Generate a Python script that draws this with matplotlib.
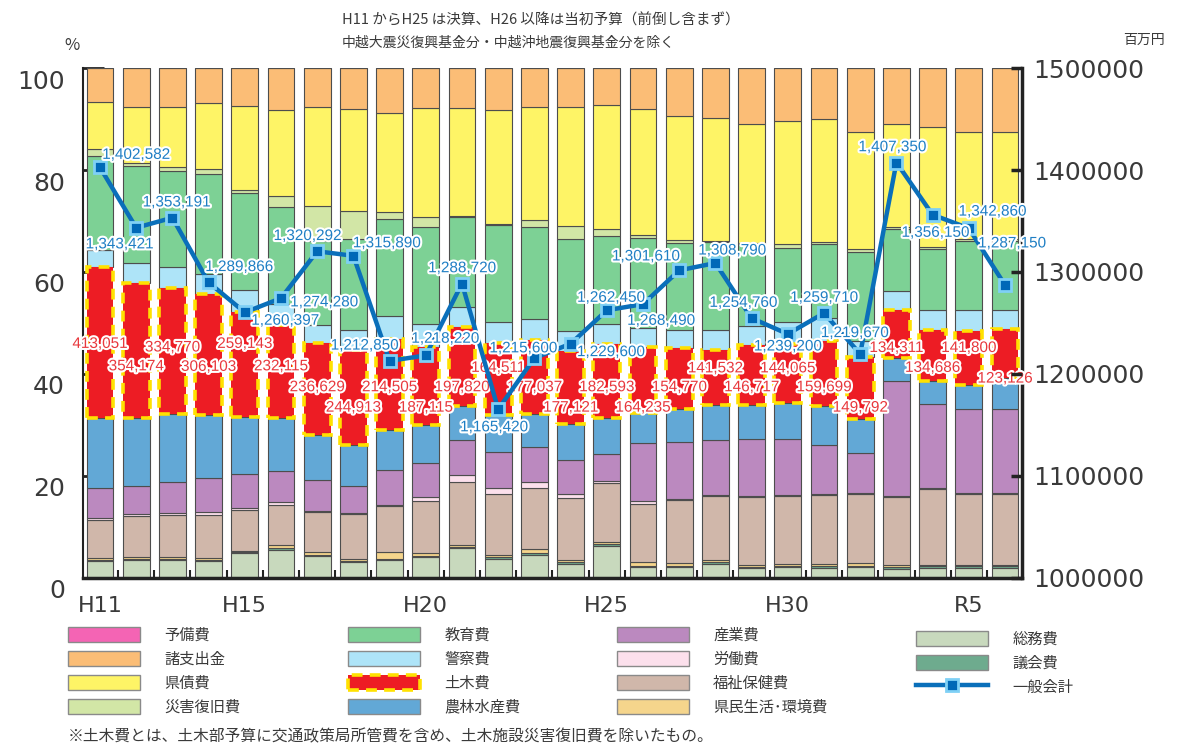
import numpy as np
import matplotlib
matplotlib.use('Agg')
import matplotlib.pyplot as plt
import matplotlib.patheffects as pe
from matplotlib.patches import Patch
from matplotlib.lines import Line2D
from matplotlib.transforms import ScaledTranslation

JP = ['Noto Sans CJK JP', 'DejaVu Sans']
NUM = ['Liberation Sans', 'DejaVu Sans']

# --- data -----------------------------------------------------------------
years = ['H11', 'H12', 'H13', 'H14', 'H15', 'H16', 'H17', 'H18', 'H19', 'H20',
         'H21', 'H22', 'H23', 'H24', 'H25', 'H26', 'H27', 'H28', 'H29', 'H30',
         'H31', 'R2', 'R3', 'R4', 'R5', 'R6']
tick_years = ['H11', 'H15', 'H20', 'H25', 'H30', 'R5']

# 一般会計 (百万円)
general = [1402582, 1343421, 1353191, 1289866, 1260397, 1274280, 1320292, 1315890,
           1212850, 1218220, 1288720, 1165420, 1215600, 1229600, 1262450, 1268490,
           1301610, 1308790, 1254760, 1239200, 1259710, 1219670, 1407350, 1356150,
           1342860, 1287150]
# 土木費 (百万円)
doboku = [413051, 354174, 334770, 306103, 259143, 232115, 236629, 244913, 214505,
          187115, 197820, 164511, 177037, 177121, 182593, 164235, 154770, 141532,
          146717, 144065, 159699, 149792, 134311, 134686, 141800, 123126]

# shares (%), bottom to top
somu = [3.3, 3.5, 3.5, 3.3, 4.8, 5.5, 4.3, 3.1, 3.5, 4.1, 5.8, 3.8, 4.5, 2.8, 6.3,
        2.1, 2.1, 2.8, 1.9, 2.1, 2.0, 2.1, 1.8, 2.0, 2.0, 2.0]
gikai = [0.3, 0.3, 0.3, 0.3, 0.3, 0.3, 0.3, 0.3, 0.3, 0.3, 0.3, 0.3, 0.3, 0.3, 0.3,
         0.3, 0.3, 0.3, 0.3, 0.3, 0.3, 0.3, 0.3, 0.3, 0.3, 0.3]
kenmin = [0.3, 0.3, 0.3, 0.3, 0.2, 0.7, 0.4, 0.4, 1.2, 0.5, 0.4, 0.4, 0.8, 0.4, 0.4,
          0.7, 0.6, 0.4, 0.3, 0.4, 0.5, 0.5, 0.4, 0.2, 0.2, 0.2]
fukushi = [7.4, 8.0, 8.2, 8.5, 8.1, 7.8, 8.0, 8.7, 9.1, 10.2, 12.3, 11.9, 12.0, 12.1,
           11.6, 11.5, 12.2, 12.6, 13.4, 13.3, 13.4, 13.5, 13.4, 14.9, 13.9, 13.9]
rodo = [0.5, 0.5, 0.5, 0.6, 0.4, 0.5, 0.2, 0.2, 0.2, 0.8, 1.3, 1.2, 1.2, 0.8, 0.4,
        0.4, 0.2, 0.2, 0.2, 0.2, 0.2, 0.2, 0.2, 0.2, 0.2, 0.2]
sangyo = [5.8, 5.5, 6.0, 6.6, 6.5, 6.2, 6.0, 5.4, 6.8, 6.7, 7.0, 7.2, 6.8, 6.8, 5.3,
          11.4, 11.2, 10.8, 11.1, 10.9, 9.7, 8.0, 22.6, 16.6, 16.6, 16.6]
norin = [13.8, 13.3, 13.3, 12.4, 11.3, 10.4, 8.9, 8.0, 8.0, 7.3, 6.7, 7.2, 6.5, 6.9,
         7.1, 6.0, 6.6, 6.8, 6.7, 7.1, 7.7, 6.5, 4.4, 4.5, 4.7, 6.0]
doboku_pct = [29.5, 26.4, 24.7, 23.7, 20.6, 18.2, 17.9, 18.6, 17.7, 15.4, 15.4, 14.1,
              14.6, 14.4, 14.5, 12.9, 11.9, 10.8, 11.7, 11.6, 12.7, 12.3, 9.5, 9.9,
              10.6, 9.6]
keisatsu = [3.5, 3.9, 4.1, 4.0, 4.2, 4.1, 3.7, 4.0, 4.6, 4.6, 3.9, 4.0, 4.0, 4.0, 4.0,
            3.8, 3.6, 3.9, 3.9, 4.2, 4.5, 3.0, 3.6, 3.9, 4.0, 3.7]
kyoiku = [18.3, 19.0, 18.9, 19.5, 19.1, 19.0, 16.3, 17.7, 19.0, 19.0, 17.6, 19.1, 18.2,
          17.9, 17.1, 17.6, 17.0, 17.2, 16.0, 14.7, 14.4, 17.6, 12.2, 12.0, 13.5, 13.5]
saigai = [1.5, 0.7, 0.7, 1.0, 0.5, 2.3, 7.0, 5.6, 1.3, 1.8, 0.2, 0.2, 1.3, 2.6, 1.5,
          0.5, 0.5, 0.2, 0.2, 0.7, 0.4, 0.5, 0.5, 0.5, 0.4, 0.4]
kensai = [9.1, 10.9, 11.8, 12.9, 16.5, 16.8, 19.3, 20.0, 19.4, 21.4, 21.2, 22.4, 22.1,
          23.3, 24.3, 24.8, 24.3, 24.2, 23.4, 24.2, 24.2, 23.0, 20.2, 23.5, 21.0, 21.0]
shishutsu = [6.7, 7.7, 7.7, 6.9, 7.5, 8.2, 7.7, 8.0, 8.9, 7.9, 7.9, 8.2, 7.7, 7.7, 7.2,
             8.0, 9.5, 9.8, 10.9, 10.3, 10.0, 12.5, 10.9, 11.5, 12.6, 12.6]
yobi = [0.0, 0.0, 0.0, 0.0, 0.0, 0.0, 0.0, 0.0, 0.0, 0.0, 0.0, 0.0, 0.0, 0.0, 0.0,
        0.0, 0.0, 0.0, 0.0, 0.0, 0.0, 0.0, 0.0, 0.0, 0.0, 0.0]

# --- layout only ------------------------------------------------------------
# offsets (points) of the 一般会計 labels from their markers
gen_off = [(26, 9), (-12, -12), (3, 11), (22, 11), (29, -6), (31, -3), (-7, 11),
           (24, 9), (-18, 11), (14, 12), (0, 11), (-3, -13), (-8, 7), (29, -6),
           (3, 9), (13, -12), (-24, 10), (12, 9), (-6, 11), (0, -9), (0, 11),
           (-4, 15), (-3, 11), (2, -13), (17, 12), (5, 30)]
# height (%) of the 土木費 labels
dob_y = [45.9, 41.5, 45.2, 41.4, 45.9, 41.5, 37.4, 33.4, 37.4, 33.4, 37.4, 41.2, 37.4,
         33.4, 37.4, 33.4, 37.4, 41.1, 37.4, 41.1, 37.4, 33.4, 45.1, 41.2, 45.1, 39.1]

segments = [
    ('総務費', somu, '#c8d9bd'),
    ('議会費', gikai, '#6eab8e'),
    ('県民生活･環境費', kenmin, '#f5d58c'),
    ('福祉保健費', fukushi, '#d0b7aa'),
    ('労働費', rodo, '#fce0ec'),
    ('産業費', sangyo, '#bb89bf'),
    ('農林水産費', norin, '#62a8d6'),
    ('土木費', doboku_pct, '#ed1c24'),
    ('警察費', keisatsu, '#aee4f8'),
    ('教育費', kyoiku, '#7dd195'),
    ('災害復旧費', saigai, '#d2e6a6'),
    ('県債費', kensai, '#fef466'),
    ('諸支出金', shishutsu, '#fbbd76'),
    ('予備費', yobi, '#f464b4'),
]
colors = {name: c for name, _, c in segments}
LINE_C = '#0a6fba'
TXT = '#3a3a3a'

fig = plt.figure(figsize=(11.92, 7.45), dpi=100)
ax = fig.add_axes([0.0696, 0.2242, 0.7878, 0.6845])
x = np.arange(len(years))
width = 0.74

bottom = np.zeros(len(years))
for name, vals, col in segments:
    vals = np.array(vals)
    if name == '土木費':
        ax.bar(x, vals, width, bottom=bottom, color=col, edgecolor='#ffe100',
               linewidth=2.6, linestyle=(0, (3.0, 2.0)), zorder=3)
    else:
        ax.bar(x, vals, width, bottom=bottom, color=col, edgecolor='#4d4d4d',
               linewidth=0.8, zorder=2)
    bottom += vals

ax.set_xlim(-0.47, len(years) - 0.53)
ax.set_ylim(0, 100)
ax.set_yticks(np.arange(0, 101, 20))
ax.tick_params(axis='y', direction='in', length=15, width=2, color='#222222',
               labelsize=18, labelcolor=TXT, pad=13)
off = ScaledTranslation(0, -0.11, fig.dpi_scale_trans)
for lab in ax.get_yticklabels():
    lab.set_transform(lab.get_transform() + off)

ax.set_xticks([years.index(t) for t in tick_years])
ax.set_xticklabels(tick_years)
ax.set_xticks(x[:-1] + 0.5, minor=True)
ax.tick_params(axis='x', which='major', length=0, labelsize=16, labelcolor=TXT, pad=13)
ax.tick_params(axis='x', which='minor', direction='in', length=6, width=1.5,
               color='#222222')
ax.spines['top'].set_visible(False)
ax.spines['left'].set_linewidth(1.5)
ax.spines['bottom'].set_linewidth(2.5)
ax.spines['right'].set_linewidth(2.5)
for s in ax.spines.values():
    s.set_color('#222222')

# 土木費 labels
halo = [pe.withStroke(linewidth=3, foreground='white')]
for i, v in enumerate(doboku):
    ax.text(x[i], dob_y[i], f'{v:,}', ha='center', va='center', fontsize=11,
            family=NUM, color='#e8383d', path_effects=halo, zorder=6)

# 一般会計 line on the right axis
ax2 = ax.twinx()
ax2.set_ylim(1000000, 1500000)
ax2.set_yticks(np.arange(1000000, 1500001, 100000))
ax2.set_yticklabels([f'{v:d}' for v in range(1000000, 1500001, 100000)])
ax2.tick_params(axis='y', direction='in', length=8, width=2.5, color='#222222',
                labelsize=18, labelcolor=TXT, pad=8)
for s in ax2.spines.values():
    s.set_visible(False)
ax2.plot(x, general, color=LINE_C, lw=3.2, marker='s', markersize=9,
         markerfacecolor='#0068b7', markeredgecolor='#7fd0f5', markeredgewidth=2,
         zorder=5)
for i, v in enumerate(general):
    ax2.annotate(f'{v:,}', (x[i], v), xytext=gen_off[i], textcoords='offset points',
                 ha='center', va='center', fontsize=11, family=NUM, color='#1f7fc4',
                 path_effects=halo, zorder=7)

# texts around the plot
fig.text(342 / 1192, 1 - 20 / 745, 'H11 からH25 は決算、H26 以降は当初予算（前倒し含まず）',
         fontsize=10.5, family=JP, color=TXT, va='center')
fig.text(342 / 1192, 1 - 43 / 745, '中越大震災復興基金分・中越沖地震復興基金分を除く',
         fontsize=10, family=JP, color=TXT, va='center')
fig.text(1144 / 1192, 1 - 40 / 745, '百万円', fontsize=10, family=JP, color=TXT,
         ha='center', va='center')
fig.text(72 / 1192, 1 - 45 / 745, '%', fontsize=12, family=JP, color=TXT,
         ha='center', va='center')
fig.text(68 / 1192, 1 - 737 / 745,
         '※土木費とは、土木部予算に交通政策局所管費を含め、土木施設災害復旧費を除いたもの。',
         fontsize=11.3, family=JP, color=TXT, va='center')

# legend, four columns
def patch(name):
    if name == '土木費':
        return Patch(facecolor=colors[name], edgecolor='#ffe100', linewidth=2.6,
                     linestyle=(0, (3.0, 2.0)))
    return Patch(facecolor=colors[name], edgecolor='#8a8a8a', linewidth=1)

line_handle = Line2D([], [], color=LINE_C, lw=3.2, marker='s', markersize=9,
                     markerfacecolor='#0068b7', markeredgecolor='#7fd0f5',
                     markeredgewidth=2)
columns = [
    (['予備費', '諸支出金', '県債費', '災害復旧費'], 68, 627),
    (['教育費', '警察費', '土木費', '農林水産費'], 348, 627),
    (['産業費', '労働費', '福祉保健費', '県民生活･環境費'], 617, 627),
    (['総務費', '議会費', '一般会計'], 916, 631),
]
for names, lx, ly in columns:
    handles = [line_handle if n == '一般会計' else patch(n) for n in names]
    fig.legend(handles, names, loc='upper left', bbox_to_anchor=(lx / 1192, 1 - ly / 745),
               frameon=False, borderpad=0, borderaxespad=0, handlelength=4.7,
               handleheight=1.1, handletextpad=1.6, labelspacing=0.45,
               prop={'family': JP, 'size': 11}, labelcolor=TXT)

fig.savefig('out.png', dpi=100)
